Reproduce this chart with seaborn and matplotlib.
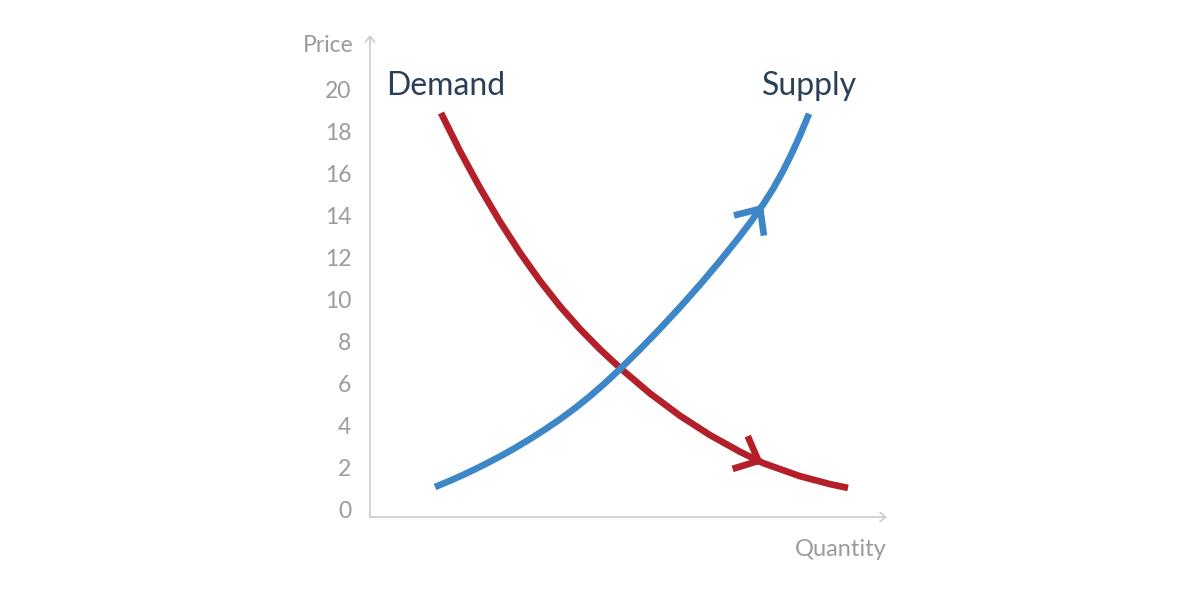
import matplotlib
matplotlib.use("Agg")
import matplotlib.pyplot as plt
import pandas as pd
import seaborn as sns

# ---- data ----
demand_q = [3.381, 4.286, 5.238, 6.190, 7.143, 8.095, 9.048, 10.000, 10.952, 11.905,
            13.333, 14.762, 16.190, 17.619, 18.714, 19.048, 20.476, 21.905, 22.762]
demand_p = [18.905, 17.090, 15.338, 13.728, 12.252, 10.910, 9.700, 8.619, 7.652, 6.767,
            5.552, 4.488, 3.567, 2.774, 2.238, 2.117, 1.610, 1.231, 1.052]
supply_q = [3.095, 3.810, 4.524, 5.238, 6.190, 6.905, 7.619, 8.333, 9.048, 9.762,
            10.476, 11.190, 11.905, 12.857, 13.810, 14.762, 15.714, 16.667, 17.619,
            18.190, 18.714, 19.190, 19.667, 20.095, 20.476, 20.905]
supply_p = [1.095, 1.392, 1.713, 2.056, 2.550, 2.950, 3.379, 3.836, 4.321, 4.847,
            5.422, 6.043, 6.711, 7.649, 8.633, 9.659, 10.730, 11.857, 13.045,
            13.801, 14.539, 15.287, 16.140, 17.002, 17.840, 18.870]
demand_arrow_idx = 14
supply_arrow_idx = 20
y_ticks = list(range(0, 21, 2))
x_label = "Quantity"
y_label = "Price"
curve_names = ["Demand", "Supply"]

RED = "#b3202a"
BLUE = "#3d87c9"
NAVY = "#2a3f58"
GRAY_TXT = "#9b9b9b"
AXIS = "#cccccc"
LW = 4.8

sns.set_theme(style="white")
plt.rcParams["font.family"] = ["Lato", "DejaVu Sans"]

fig = plt.figure(figsize=(12, 6), dpi=100)
ax = fig.add_axes([370 / 1200, 1 - 517 / 600, 517 / 1200, 482 / 600])

df = pd.concat([
    pd.DataFrame({"q": demand_q, "p": demand_p, "curve": "Demand"}),
    pd.DataFrame({"q": supply_q, "p": supply_p, "curve": "Supply"}),
], ignore_index=True)

sns.lineplot(data=df, x="q", y="p", hue="curve", hue_order=curve_names,
             palette={"Demand": RED, "Supply": BLUE}, sort=False, estimator=None,
             linewidth=LW, legend=False, ax=ax, solid_capstyle="butt",
             solid_joinstyle="round")

ax.set_xlim(0, 517 / 21)
ax.set_ylim(-7 / 21, 475 / 21)

for s in ax.spines.values():
    s.set_visible(False)

# axis lines with open arrowheads
axis_arrow = dict(arrowstyle="->,head_length=0.4,head_width=0.32", mutation_scale=10,
                  lw=1.2, color=AXIS, shrinkA=0, shrinkB=0)
ax.annotate("", xy=(0, 1), xytext=(0, 0), xycoords="axes fraction",
            textcoords="axes fraction", arrowprops=axis_arrow, annotation_clip=False)
ax.annotate("", xy=(1, 0), xytext=(0, 0), xycoords="axes fraction",
            textcoords="axes fraction", arrowprops=axis_arrow, annotation_clip=False)

ax.set_xticks([])
ax.set_yticks(y_ticks)
ax.set_yticklabels([str(t) for t in y_ticks])
ax.tick_params(axis="y", length=0, pad=13.5, labelsize=16.5, labelcolor=GRAY_TXT)
ax.set_xlabel("")
ax.set_ylabel("")

ax.text(-16 / 517, (517 - 52.5) / 482, y_label, transform=ax.transAxes,
        ha="right", va="baseline", fontsize=16.5, color=GRAY_TXT)
ax.text(1.0, (517 - 556) / 482, x_label, transform=ax.transAxes,
        ha="right", va="baseline", fontsize=17, color=GRAY_TXT)

# curve labels
ax.text(16 / 517, (517 - 95) / 482, curve_names[0], transform=ax.transAxes,
        ha="left", va="baseline", fontsize=23, color=NAVY)
ax.text((857 - 370) / 517, (517 - 95) / 482, curve_names[1], transform=ax.transAxes,
        ha="right", va="baseline", fontsize=23, color=NAVY)

# direction chevrons on the curves
def chevron(qs, ps, i, color):
    tip = (qs[i], ps[i])
    dq = qs[i + 1] - qs[i - 1]
    dp = ps[i + 1] - ps[i - 1]
    back = (qs[i] - 0.15 * dq, ps[i] - 0.15 * dp)
    ax.annotate("", xy=tip, xytext=back,
                arrowprops=dict(arrowstyle="->,head_length=1.45,head_width=1.3",
                                mutation_scale=10, lw=LW, color=color,
                                shrinkA=0, shrinkB=0, capstyle="butt"))

chevron(demand_q, demand_p, demand_arrow_idx, RED)
chevron(supply_q, supply_p, supply_arrow_idx, BLUE)

fig.savefig("out.png", dpi=100, facecolor="white")
